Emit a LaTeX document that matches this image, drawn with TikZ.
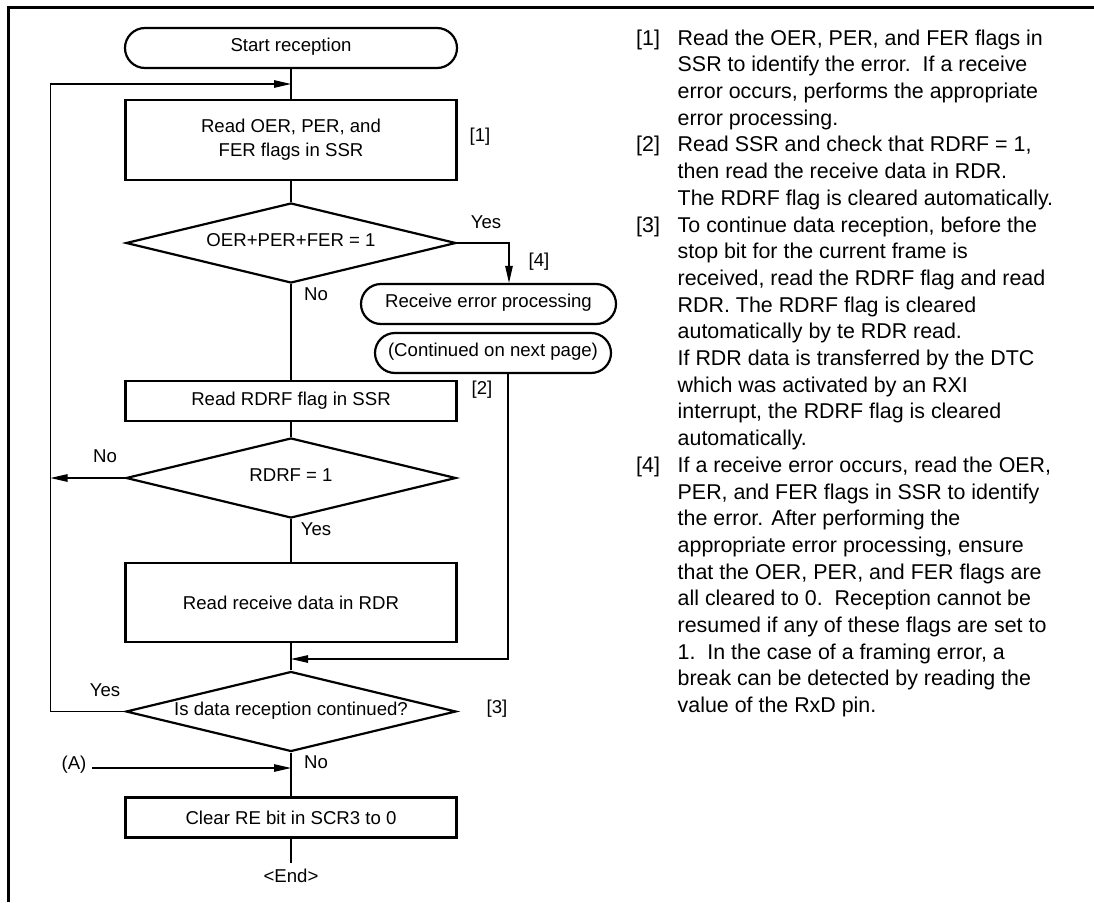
\documentclass[tikz,border=0pt]{standalone}
\usepackage{fontspec}
\setmainfont{Liberation Sans}
\usetikzlibrary{arrows.meta,shapes.geometric}
\newcommand\flowfont{\fontsize{18.6}{24}\selectfont}
\newcommand\notefont{\fontsize{21.4}{26.7}\selectfont}
\begin{document}
\begin{tikzpicture}[x=1pt,y=-1pt,
  box/.style={draw, line width=2.2pt, minimum width=331pt, inner sep=0pt, font=\flowfont, align=center},
  term/.style={draw, line width=2.2pt, rounded corners=20pt, minimum height=40pt, inner sep=0pt, font=\flowfont, text height=0.716em, text depth=0pt},
  dec/.style={draw, diamond, line width=2.2pt, minimum width=330pt, minimum height=80pt, inner sep=0pt, shape aspect=4.125, font=\flowfont, text height=0.716em, text depth=0pt},
  lab/.style={inner sep=0pt, font=\flowfont, text height=0.716em, text depth=0pt},
  conn/.style={line width=1.1pt},
  arr/.style={conn, -{Triangle[length=17pt,width=7.5pt]}},
]
\useasboundingbox (0,0) rectangle (1094,902);
% frame
\draw[line width=3pt] (8,902) -- (8,7) -- (1094,7);

% flowchart nodes
\node[term, minimum width=332pt] (start) at (291,48) {Start reception};
\node[box, minimum height=80pt] (b1) at (291,140) {Read OER, PER, and\\FER flags in SSR};
\node[dec] (d1) at (291,243) {OER+PER+FER = 1};
\node[term, minimum width=255pt] (err) at (488.5,304) {Receive error processing};
\node[term, minimum width=236pt] (cont) at (493,353) {(Continued on next page)};
\node[box, minimum height=40pt] (b2) at (291,401) {Read RDRF flag in SSR};
\node[dec] (d2) at (291,478) {RDRF = 1};
\node[box, minimum height=79.5pt] (b3) at (291,602.5) {Read receive data in RDR};
\node[dec] (d3) at (291,711.5) {Is data reception continued?};
\node[box, minimum height=40pt] (b4) at (291,817.5) {Clear RE bit in SCR3 to 0};
\coordinate (endc) at (291,863);
\node[lab] (endt) at (291,879) {<End>};

% labels
\node[lab] (n1) at (480,138) {[1]};
\node[lab] (n2) at (482,391) {[2]};
\node[lab] (n3) at (497,710) {[3]};
\node[lab] (n4) at (539,263) {[4]};
\node[lab] (yes1) at (486,225) {Yes};
\node[lab] (no1) at (316,297) {No};
\node[lab] (no2) at (105,459) {No};
\node[lab] (yes2) at (316,532) {Yes};
\node[lab] (yes3) at (105,693) {Yes};
\node[lab] (no3) at (316,765) {No};
\node[lab] (A) at (74,766) {(A)};

% helper coordinates
\coordinate (lx) at (50.5,0);
\coordinate (top) at (291,84);
\coordinate (yx) at (509,0);
\coordinate (cx) at (508,0);
\coordinate (cj) at (291,659);
\coordinate (aj) at (291,768);

% main axis
\draw[conn] (start.south) -- (b1.north);
\draw[conn] (b1.south) -- (d1.north);
\draw[conn] (d1.south) -- (b2.north);
\draw[conn] (b2.south) -- (d2.north);
\draw[conn] (d2.south) -- (b3.north);
\draw[conn] (b3.south) -- (d3.north);
\draw[conn] (d3.south) -- (b4.north);
\draw[conn] (b4.south) -- (endc);

% loops and branches
\draw[arr] (d3.west) -- (d3.west -| lx) -- (lx |- top) -- (top);
\draw[arr] (d2.west) -- (d2.west -| lx);
\draw[arr] (d1.east) -- (d1.east -| yx) -- (err.north -| yx);
\draw[arr] (cont.south -| cx) -- (cx |- cj) -- (cj);
\draw[arr] ([xshift=5.5pt]A.east |- aj) -- (aj);

% notes
\node[anchor=north west, inner sep=0pt, font=\notefont] (notes) at (636,26.3) {%
\begin{tabular}{@{}p{41.5pt}@{}l@{}}
{[1]} & Read the OER, PER, and FER flags in\\
 & SSR to identify the error.\ \ If a receive\\
 & error occurs, performs the appropriate\\
 & error processing.\\
{[2]} & Read SSR and check that RDRF = 1,\\
 & then read the receive data in RDR.\\
 & The RDRF flag is cleared automatically.\\
{[3]} & To continue data reception, before the\\
 & stop bit for the current frame is\\
 & received, read the RDRF flag and read\\
 & RDR. The RDRF flag is cleared\\
 & automatically by te RDR read.\\
 & If RDR data is transferred by the DTC\\
 & which was activated by an RXI\\
 & interrupt, the RDRF flag is cleared\\
 & automatically.\\
{[4]} & If a receive error occurs, read the OER,\\
 & PER, and FER flags in SSR to identify\\
 & the error. After performing the\\
 & appropriate error processing, ensure\\
 & that the OER, PER, and FER flags are\\
 & all cleared to 0.\ \ Reception cannot be\\
 & resumed if any of these flags are set to\\
 & 1.\ \ In the case of a framing error, a\\
 & break can be detected by reading the\\
 & value of the RxD pin.
\end{tabular}};
\end{tikzpicture}
\end{document}
